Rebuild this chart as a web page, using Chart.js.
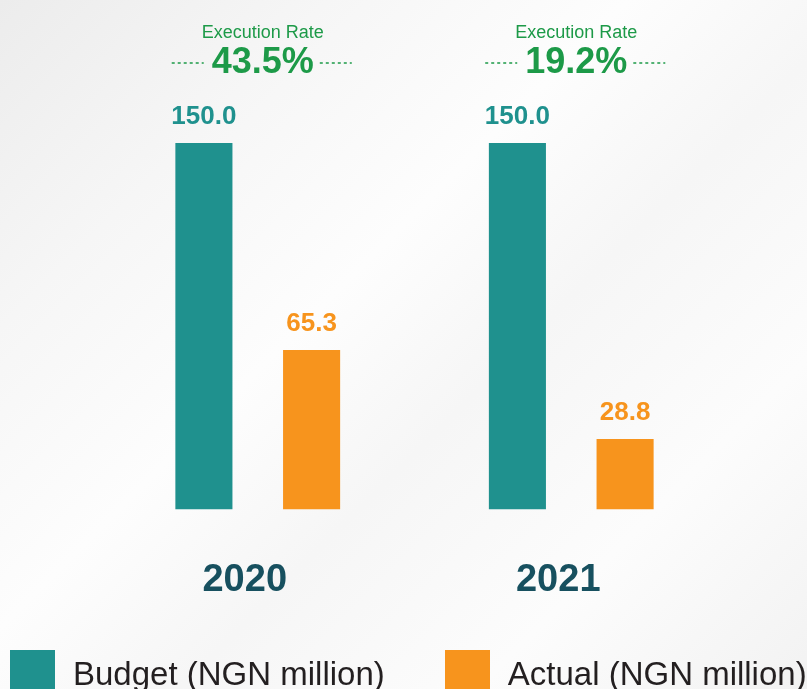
<!DOCTYPE html>
<html>
<head>
<meta charset="utf-8">
<script src="https://cdn.jsdelivr.net/npm/chart.js@4.4.1/dist/chart.umd.min.js"></script>
<style>
  html, body { margin: 0; padding: 0; }
  body {
    width: 807px; height: 689px; overflow: hidden; position: relative;
    background: linear-gradient(135deg, #ececec 0%, #f6f6f6 22%, #fdfdfd 42%, #f6f6f6 58%, #fcfcfc 78%, #f2f2f2 100%);
    font-family: "Liberation Sans", Arial, sans-serif;
  }
  #wrap { position: absolute; left: 0; top: 0; width: 807px; height: 689px; }
  #legend { position: absolute; left: 10px; top: 650px; display: flex; gap: 60px; }
  .item { display: flex; align-items: flex-start; }
  .box { width: 45px; height: 45px; margin-right: 18px; }
  .txt { font-size: 33px; line-height: 33px; margin-top: 7px; color: #231f20; white-space: nowrap; }
</style>
</head>
<body>
<div id="wrap"><canvas id="budgetChart"></canvas></div>
<div id="legend"></div>
<script>
// data
const years = ['2020', '2021'];
const budget = [150.0, 150.0];
const actual = [65.3, 28.8];
const seriesNames = ['Budget (NGN million)', 'Actual (NGN million)'];
const seriesColors = ['#1f918e', '#f7941d'];
const rateColor = '#1d9a48';

// value labels + execution rate headers
const barLabels = {
    id: 'barLabels',
    afterDatasetsDraw(chart) {
        const ctx = chart.ctx;
        ctx.save();
        ctx.textAlign = 'center';
        ctx.textBaseline = 'alphabetic';
        chart.data.datasets.forEach((ds, i) => {
            chart.getDatasetMeta(i).data.forEach((bar, j) => {
                ctx.fillStyle = ds.backgroundColor;
                ctx.font = 'bold 26px "Liberation Sans", Arial, sans-serif';
                ctx.fillText(ds.data[j].toFixed(1), bar.x, bar.y - 19);
            });
        });

        const xScale = chart.scales.x;
        years.forEach((yr, j) => {
            const cx = xScale.getPixelForValue(j) + 5;
            const rate = (actual[j] / budget[j] * 100).toFixed(1) + '%';
            ctx.fillStyle = rateColor;
            ctx.font = '18px "Liberation Sans", Arial, sans-serif';
            ctx.fillText('Execution Rate', cx, 38);
            ctx.font = 'bold 36px "Liberation Sans", Arial, sans-serif';
            ctx.fillText(rate, cx, 73);
            const w = ctx.measureText(rate).width;
            ctx.strokeStyle = rateColor;
            ctx.lineWidth = 1.5;
            ctx.setLineDash([3, 3]);
            ctx.beginPath();
            ctx.moveTo(cx - w / 2 - 40, 63);
            ctx.lineTo(cx - w / 2 - 8, 63);
            ctx.moveTo(cx + w / 2 + 6, 63);
            ctx.lineTo(cx + w / 2 + 38, 63);
            ctx.stroke();
            ctx.setLineDash([]);
        });
        ctx.restore();
    }
};

const ctx = document.getElementById('budgetChart').getContext('2d');
const budgetChart = new Chart(ctx, {
    type: 'bar',
    data: {
        labels: years,
        datasets: [
            { label: seriesNames[0], data: budget, backgroundColor: seriesColors[0] },
            { label: seriesNames[1], data: actual, backgroundColor: seriesColors[1] }
        ]
    },
    options: {
        responsive: true,
        maintainAspectRatio: false,
        animation: false,
        categoryPercentage: 0.687,
        barPercentage: 0.53,
        layout: { padding: { top: 143, left: 101, right: 79, bottom: 38 } },
        plugins: {
            legend: { display: false },
            tooltip: { enabled: false }
        },
        scales: {
            x: {
                grid: { display: false, drawTicks: false },
                border: { display: false },
                ticks: {
                    color: '#17505f',
                    padding: 48,
                    labelOffset: -13,
                    font: { family: '"Liberation Sans", Arial, sans-serif', size: 38, weight: 'bold' }
                }
            },
            y: {
                display: false,
                beginAtZero: true,
                min: 0,
                max: 150
            }
        }
    },
    plugins: [barLabels]
});

// legend
const legend = document.getElementById('legend');
seriesNames.forEach((name, i) => {
    const item = document.createElement('div');
    item.className = 'item';
    const box = document.createElement('div');
    box.className = 'box';
    box.style.background = seriesColors[i];
    const txt = document.createElement('div');
    txt.className = 'txt';
    txt.textContent = name;
    item.appendChild(box);
    item.appendChild(txt);
    legend.appendChild(item);
});
</script>
</body>
</html>
